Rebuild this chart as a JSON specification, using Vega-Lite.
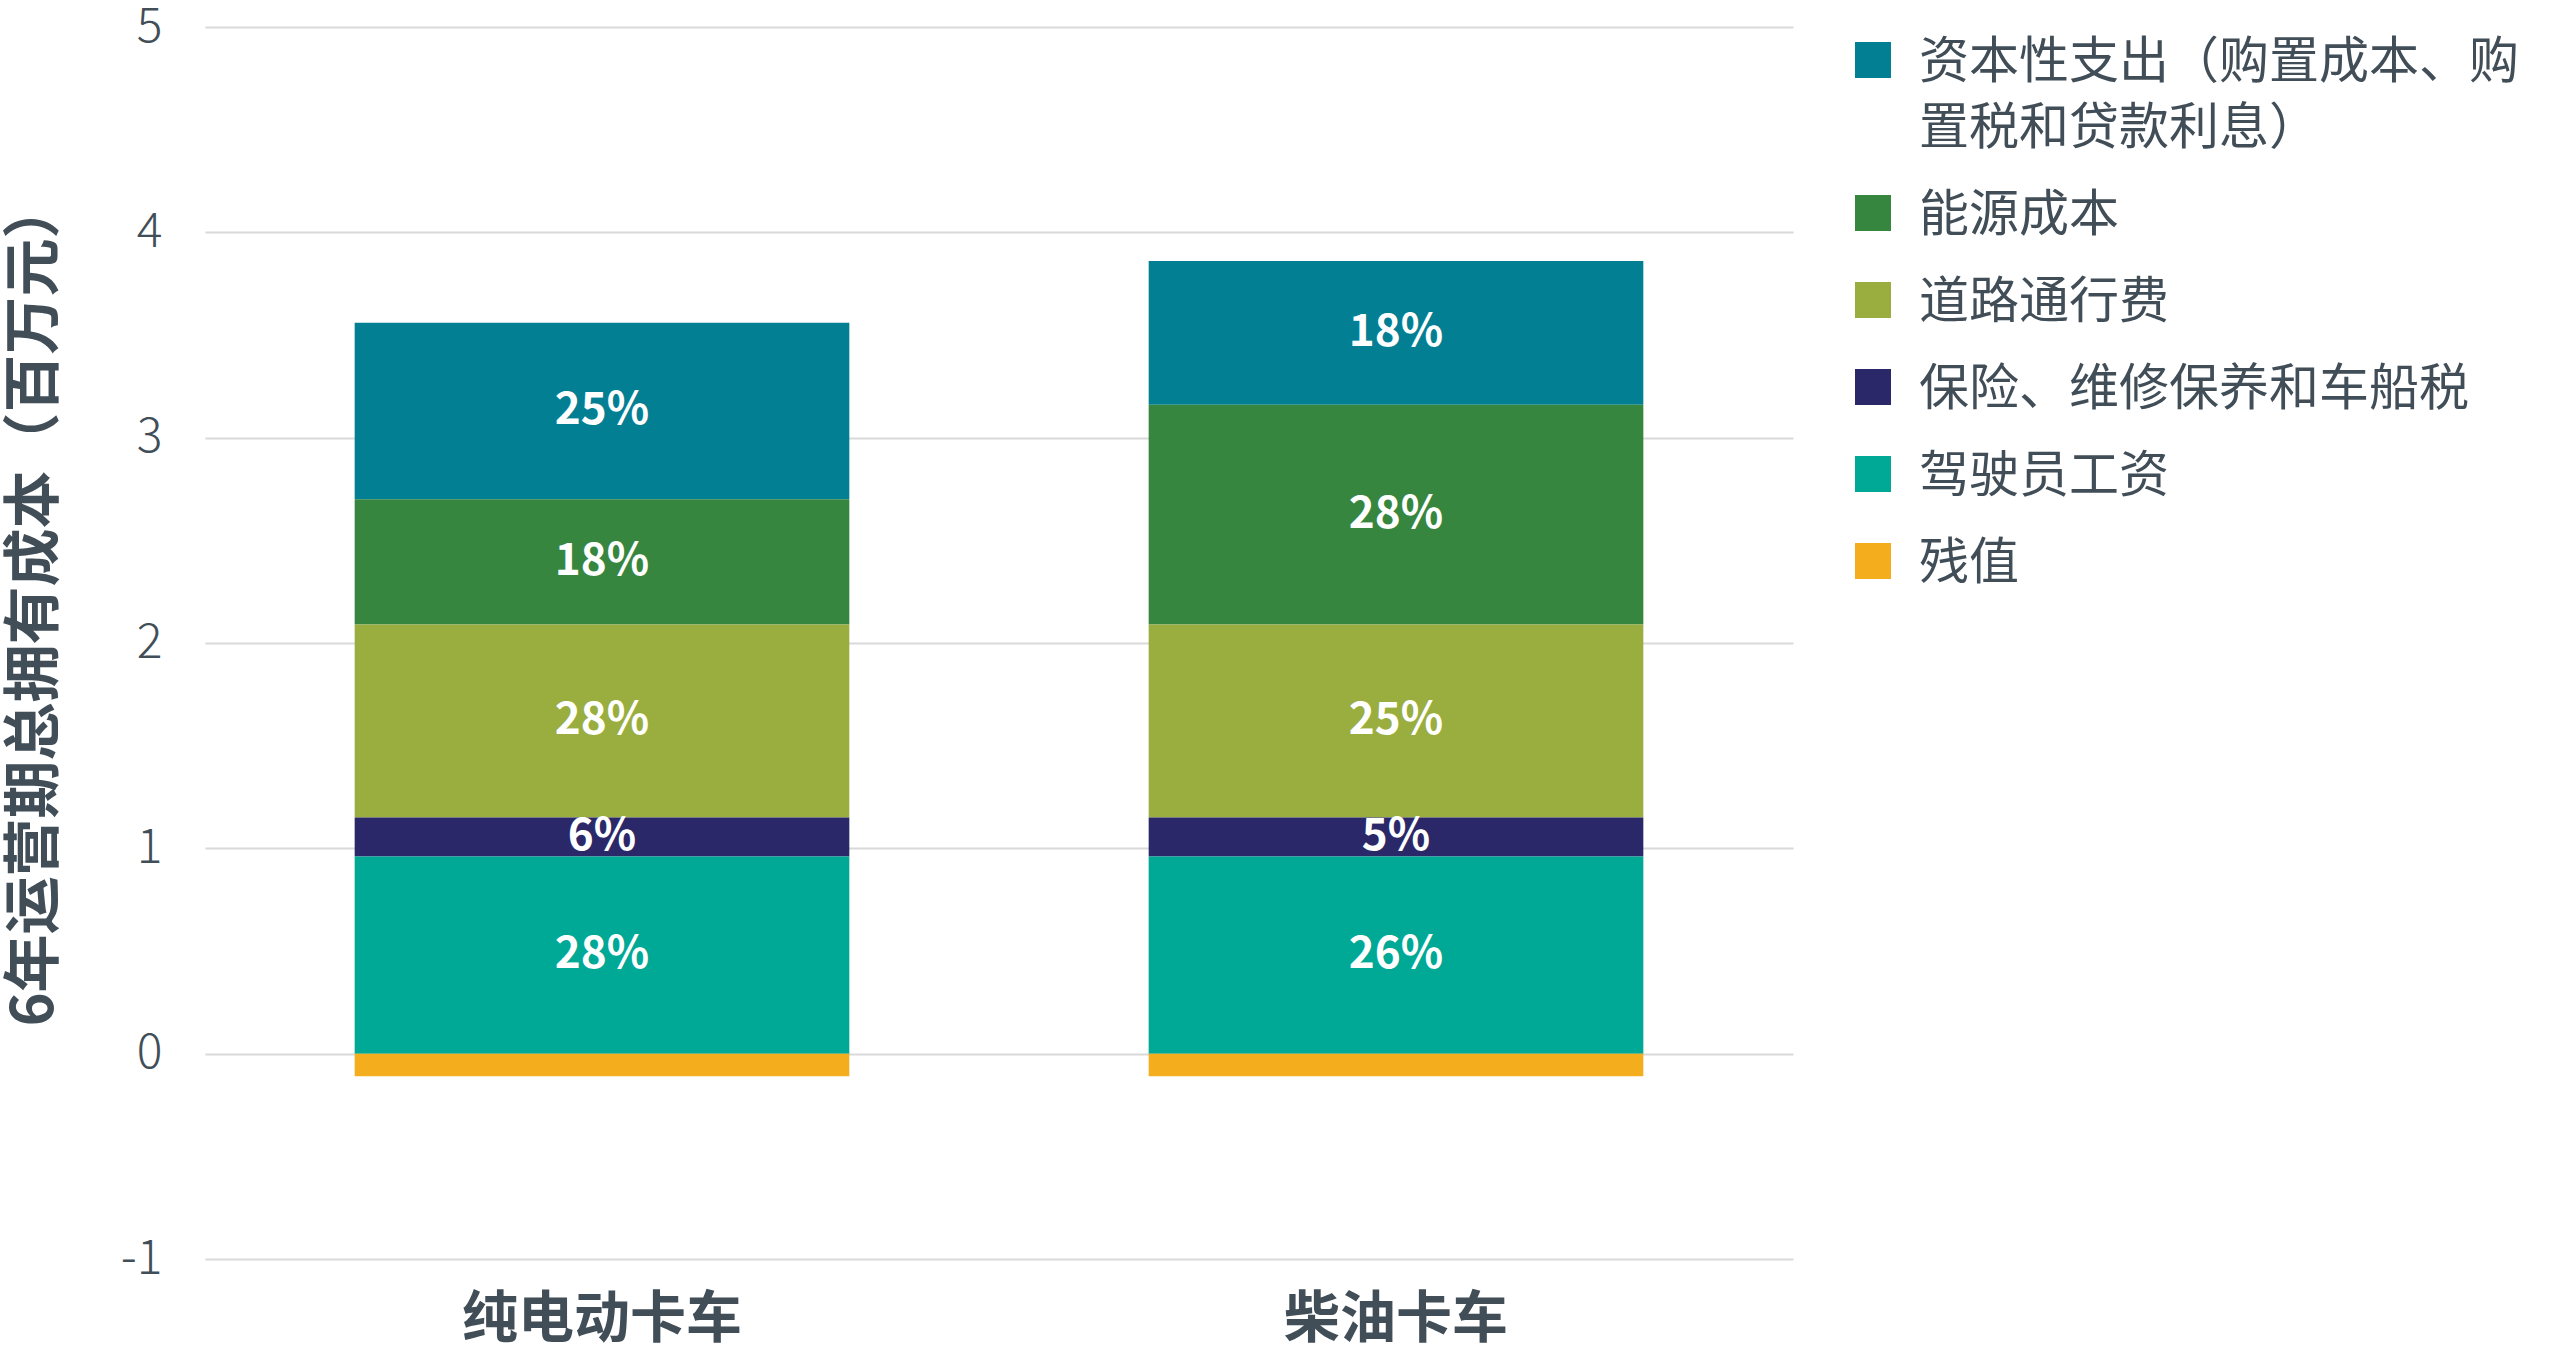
{
  "$schema": "https://vega.github.io/schema/vega-lite/v6.json",
  "background": "white",
  "padding": {"left": 6, "top": 3, "right": 10, "bottom": 0},
  "width": 1588,
  "height": 1232,
  "config": {"view": {"stroke": null}},
  "data": {
    "values": [
      {"truck": "纯电动卡车", "cost": "资本性支出（购置成本、购置税和贷款利息）", "value": 0.86, "pct": "25%", "rank": 5},
      {"truck": "纯电动卡车", "cost": "能源成本", "value": 0.61, "pct": "18%", "rank": 4},
      {"truck": "纯电动卡车", "cost": "道路通行费", "value": 0.94, "pct": "28%", "rank": 3},
      {"truck": "纯电动卡车", "cost": "保险、维修保养和车船税", "value": 0.19, "pct": "6%", "rank": 2},
      {"truck": "纯电动卡车", "cost": "驾驶员工资", "value": 0.96, "pct": "28%", "rank": 1},
      {"truck": "纯电动卡车", "cost": "残值", "value": -0.11, "pct": "", "rank": 0},
      {"truck": "柴油卡车", "cost": "资本性支出（购置成本、购置税和贷款利息）", "value": 0.70, "pct": "18%", "rank": 5},
      {"truck": "柴油卡车", "cost": "能源成本", "value": 1.07, "pct": "28%", "rank": 4},
      {"truck": "柴油卡车", "cost": "道路通行费", "value": 0.94, "pct": "25%", "rank": 3},
      {"truck": "柴油卡车", "cost": "保险、维修保养和车船税", "value": 0.19, "pct": "5%", "rank": 2},
      {"truck": "柴油卡车", "cost": "驾驶员工资", "value": 0.96, "pct": "26%", "rank": 1},
      {"truck": "柴油卡车", "cost": "残值", "value": -0.11, "pct": "", "rank": 0}
    ]
  },
  "transform": [
    {"stack": "value", "groupby": ["truck"], "sort": [{"field": "rank"}], "as": ["v0", "v1"]},
    {"calculate": "(datum.v0 + datum.v1) / 2", "as": "mid"}
  ],
  "encoding": {
    "x": {
      "field": "truck",
      "type": "nominal",
      "sort": ["纯电动卡车", "柴油卡车"],
      "scale": {"paddingInner": 0.377, "paddingOuter": 0.1885},
      "axis": {
        "title": null,
        "labelAngle": 0,
        "labelFont": "Noto Sans CJK SC",
        "labelFontSize": 56,
        "labelFontWeight": "bold",
        "labelColor": "#414e58",
        "labelPadding": 33,
        "labelLimit": 600,
        "domain": false,
        "ticks": false,
        "grid": false
      }
    }
  },
  "layer": [
    {
      "mark": {"type": "bar", "strokeWidth": 0},
      "encoding": {
        "y": {
          "field": "v1",
          "type": "quantitative",
          "scale": {"domain": [-1, 5], "nice": false, "zero": false},
          "axis": {
            "title": "6年运营期总拥有成本（百万元）",
            "titleFont": "Noto Sans CJK SC",
            "titleFontSize": 58,
            "titleFontWeight": "bold",
            "titleColor": "#414e58",
            "titlePadding": 56,
            "titleY": 576,
            "values": [-1, 0, 1, 2, 3, 4, 5],
            "labelExpr": "'' + datum.value",
            "labelFont": "Noto Sans CJK SC",
            "labelFontSize": 48,
            "labelFontWeight": 300,
            "labelColor": "#414e58",
            "labelPadding": 43,
            "domain": false,
            "ticks": false,
            "grid": true,
            "gridColor": "#d9d9d9",
            "gridWidth": 2
          }
        },
        "y2": {"field": "v0"},
        "color": {
          "field": "cost",
          "type": "nominal",
          "scale": {
            "domain": ["资本性支出（购置成本、购置税和贷款利息）", "能源成本", "道路通行费", "保险、维修保养和车船税", "驾驶员工资", "残值"],
            "range": ["#037f94", "#368640", "#9aae3f", "#2a2868", "#00a896", "#f4ae1d"]
          },
          "legend": {
            "title": null,
            "orient": "none",
            "legendX": 1643,
            "legendY": 8,
            "padding": 0,
            "symbolType": "square",
            "symbolSize": 1296,
            "symbolStrokeWidth": 0,
            "symbolOpacity": 1,
            "labelFont": "Noto Sans CJK SC",
            "labelFontSize": 50,
            "labelColor": "#414e58",
            "labelOffset": 21,
            "labelLimit": 800,
            "labelBaseline": "top",
            "rowPadding": 34,
            "labelExpr": "datum.label == '资本性支出（购置成本、购置税和贷款利息）' ? ['资本性支出（购置成本、购', '置税和贷款利息）'] : datum.label",
            "encode": {"labels": {"update": {"lineHeight": {"value": 66}, "dy": {"value": -22}}}}
          }
        }
      }
    },
    {
      "mark": {
        "type": "text",
        "color": "white",
        "font": "Noto Sans CJK SC",
        "fontSize": 44,
        "fontWeight": "bold",
        "baseline": "middle",
        "align": "center"
      },
      "encoding": {
        "y": {"field": "mid", "type": "quantitative"},
        "text": {"field": "pct"}
      }
    }
  ]
}
